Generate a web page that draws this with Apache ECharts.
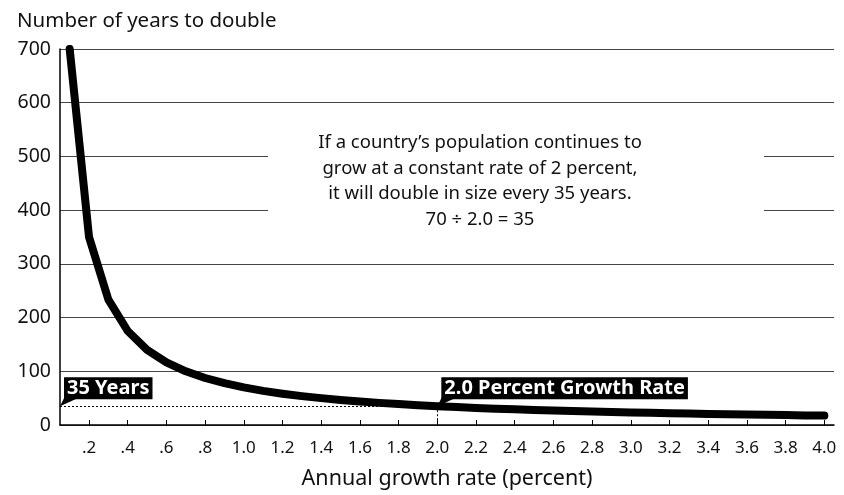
<!DOCTYPE html>
<html>
<head>
<meta charset="utf-8">
<script src="https://cdn.jsdelivr.net/npm/echarts@6/dist/echarts.min.js"></script>
<style>
html,body{margin:0;padding:0;background:#fff;}
#chart{width:844px;height:495px;}
</style>
</head>
<body>
<div id="chart"></div>
<script>
// growth rate (percent) and years to double
const growthRates = [0.1,0.2,0.3,0.4,0.5,0.6,0.7,0.8,0.9,1.0,
  1.1,1.2,1.3,1.4,1.5,1.6,1.7,1.8,1.9,2.0,
  2.1,2.2,2.3,2.4,2.5,2.6,2.7,2.8,2.9,3.0,
  3.1,3.2,3.3,3.4,3.5,3.6,3.7,3.8,3.9,4.0];
const yearsToDouble = [700,350,233.3,175,140,116.7,100,87.5,77.8,70,
  63.6,58.3,53.8,50,46.7,43.8,41.2,38.9,36.8,35,
  33.3,31.8,30.4,29.2,28,26.9,25.9,25,24.1,23.3,
  22.6,21.9,21.2,20.6,20,19.4,18.9,18.4,17.9,17.5];
const xTickValues = [0.2,0.4,0.6,0.8,1.0,1.2,1.4,1.6,1.8,2.0,2.2,2.4,2.6,2.8,3.0,3.2,3.4,3.6,3.8,4.0];
const xTickLabels = ['.2','.4','.6','.8','1.0','1.2','1.4','1.6','1.8','2.0','2.2','2.4','2.6','2.8','3.0','3.2','3.4','3.6','3.8','4.0'];
const yTicks = [0,100,200,300,400,500,600,700];
const highlightRate = 2.0;
const highlightYears = 35;
const xMin = 0.05, xMax = 4.05;
const noteLines = [
  "If a country\u2019s population continues to",
  "grow at a constant rate of 2 percent,",
  "it will double in size every 35 years.",
  "70 \u00f7 2.0 = 35"
];

const FONT = '"Noto Sans", "Open Sans", sans-serif';
const chart = echarts.init(document.getElementById('chart'), null, {renderer: 'canvas'});

const calloutPath = 'path://M0,10 L5,0 L22,0 Z';
const calloutLabel = function(txt){
  return {
    show: true, formatter: txt, position: [4, -19],
    align: 'left', verticalAlign: 'top',
    color: '#fff', backgroundColor: '#000',
    fontFamily: FONT, fontSize: 20, fontWeight: 'bold',
    padding: [0, 3, 0, 3], lineHeight: 22
  };
};

chart.setOption({
  animation: false,
  backgroundColor: '#fff',
  title: {
    text: 'Number of years to double', left: 12, top: 6,
    textStyle: {fontFamily: FONT, fontSize: 20.5, fontWeight: 'normal', color: '#111'}
  },
  grid: {left: 60, right: 10, top: 49, bottom: 67, containLabel: false},
  xAxis: {
    type: 'value', min: xMin, max: xMax,
    name: 'Annual growth rate (percent)', nameLocation: 'middle', nameGap: 43,
    nameTextStyle: {fontFamily: FONT, fontSize: 21.5, color: '#111'},
    axisLine: {show: true, onZero: false, lineStyle: {color: '#000', width: 1.5}},
    axisTick: {show: true, inside: true, length: 5, customValues: xTickValues, lineStyle: {color: '#000', width: 1}},
    axisLabel: {
      show: true, customValues: xTickValues, margin: 15,
      fontFamily: FONT, fontSize: 17, color: '#111',
      formatter: function(v){
        for (let i = 0; i < xTickValues.length; i++) {
          if (Math.abs(xTickValues[i] - v) < 1e-6) return xTickLabels[i];
        }
        return '';
      }
    },
    splitLine: {show: false}
  },
  yAxis: {
    type: 'value', min: yTicks[0], max: yTicks[yTicks.length - 1], interval: 100,
    axisLine: {show: true, lineStyle: {color: '#000', width: 1.5}},
    axisTick: {show: false},
    axisLabel: {fontFamily: FONT, fontSize: 19.5, color: '#111', margin: 9},
    splitLine: {show: true, lineStyle: {color: '#444', width: 1}}
  },
  graphic: [
    {type: 'rect', x: 268, y: 132, z: 50, shape: {width: 496, height: 100}, style: {fill: '#fff'}},
    {type: 'text', x: 480, y: 130, z: 51,
      style: {text: noteLines.join('\n'), font: '18.5px ' + FONT, fill: '#111', align: 'center', verticalAlign: 'top', lineHeight: 25.5}}
  ],
  series: [{
    type: 'line',
    data: growthRates.map((r, i) => [r, yearsToDouble[i]]),
    showSymbol: false, smooth: false,
    lineStyle: {color: '#000', width: 8, cap: 'round', join: 'round'},
    z: 10,
    markLine: {
      silent: true, symbol: 'none', animation: false,
      lineStyle: {color: '#000', type: [2, 2], width: 1},
      label: {show: false},
      data: [
        [{coord: [xMin, highlightYears]}, {coord: [highlightRate, highlightYears]}],
        [{coord: [highlightRate, highlightYears]}, {coord: [highlightRate, 0]}]
      ]
    },
    markPoint: {
      silent: true, animation: false,
      symbol: calloutPath, symbolSize: [22, 10], symbolKeepAspect: false,
      symbolOffset: [11, -5],
      itemStyle: {color: '#000'},
      data: [
        {coord: [xMin, highlightYears], label: calloutLabel('35 Years')},
        {coord: [highlightRate, highlightYears], label: calloutLabel('2.0 Percent Growth Rate')}
      ]
    }
  }]
});
</script>
</body>
</html>
